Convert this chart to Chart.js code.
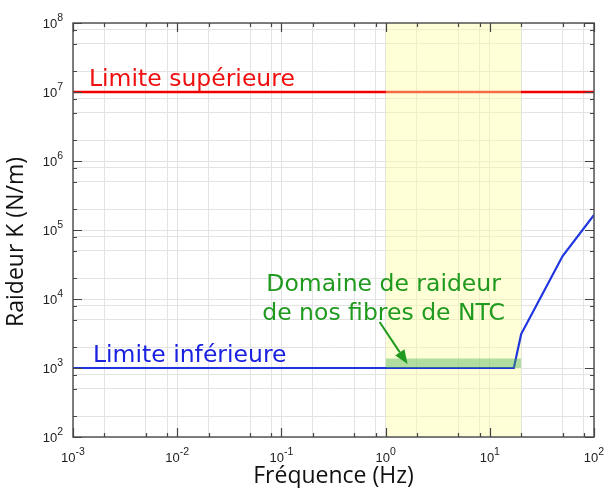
<!DOCTYPE html>
<html><head><meta charset="utf-8">
<script src="https://cdn.jsdelivr.net/npm/chart.js@4.4.1/dist/chart.umd.min.js"></script>
<style>html,body{margin:0;padding:0;background:#fff}#wrap{width:607px;height:488px}</style>
</head><body><div id="wrap"><canvas id="c" width="607" height="488"></canvas></div>
<script>
// ---- data ----
const lowerFreq = [0.001, 17, 20, 50, 100];
const lowerK = [1000, 1000, 3100, 42000, 165000];
const upperFreq = [0.001, 100];
const upperK = [1e7, 1e7];
const domainFreq = [1, 20];          // yellow frequency window
const ntcFreq = [1, 20];             // green stiffness band
const ntcK = [1000, 1370];
const xMajorExp = [-3, -2, -1, 0, 1, 2];
const yMajorExp = [2, 3, 4, 5, 6, 7, 8];
const minorMult = [2, 5, 8];
const upperLabel = 'Limite supérieure';
const lowerLabel = 'Limite inférieure';
const domainLabel = ['Domaine de raideur', 'de nos fibres de NTC'];
const xTitle = 'Fréquence (Hz)';
const yTitle = 'Raideur K (N/m)';

const xMin = Math.pow(10, xMajorExp[0]), xMax = Math.pow(10, xMajorExp[xMajorExp.length - 1]);
const yMin = Math.pow(10, yMajorExp[0]), yMax = Math.pow(10, yMajorExp[yMajorExp.length - 1]);

function buildTicks(exps) {
  const t = [];
  exps.forEach((e, i) => {
    const base = Math.pow(10, e);
    t.push({ value: base, major: true, exp: e });
    if (i < exps.length - 1) minorMult.forEach(m => t.push({ value: m * base, major: false }));
  });
  return t;
}
const pts = (xs, ys) => xs.map((x, i) => ({ x: x, y: ys[i] }));

const TICKFONT = '"Liberation Sans", Arial, Helvetica, sans-serif';
const ANNFONT = '"DejaVu Sans", Verdana, sans-serif';
const TITLEFONT = '"Open Sans", "Noto Sans", sans-serif';

const decor = {
  id: 'decor',
  afterDraw(chart) {
    const ctx = chart.ctx, a = chart.chartArea;
    const xs = chart.scales.x, ys = chart.scales.y;
    ctx.save();
    // annotations
    ctx.textBaseline = 'alphabetic';
    ctx.font = '23.5px ' + ANNFONT;
    ctx.fillStyle = '#f01010';
    ctx.textAlign = 'left';
    ctx.fillText(upperLabel, a.left + 16, ys.getPixelForValue(upperK[0]) - 6);
    ctx.fillStyle = '#1a22e0';
    ctx.fillText(lowerLabel, a.left + 20, ys.getPixelForValue(lowerK[0]) - 6);
    const gx = xs.getPixelForValue(ntcFreq[0]), gy = ys.getPixelForValue(ntcK[0]);
    ctx.fillStyle = '#1f9a1f';
    ctx.textAlign = 'center';
    ctx.fillText(domainLabel[0], gx - 2, gy - 77);
    ctx.fillText(domainLabel[1], gx - 2, gy - 48);
    // arrow
    const x0 = gx - 6, y0 = gy - 46, x1 = gx + 22, y1 = gy - 4;
    const ang = Math.atan2(y1 - y0, x1 - x0), hl = 14, hw = 5.5;
    const bx = x1 - hl * Math.cos(ang), by = y1 - hl * Math.sin(ang);
    ctx.strokeStyle = '#1f9a1f'; ctx.lineWidth = 2;
    ctx.beginPath(); ctx.moveTo(x0, y0); ctx.lineTo(bx, by); ctx.stroke();
    ctx.beginPath();
    ctx.moveTo(x1, y1);
    ctx.lineTo(bx + hw * Math.sin(ang), by - hw * Math.cos(ang));
    ctx.lineTo(bx - hw * Math.sin(ang), by + hw * Math.cos(ang));
    ctx.closePath(); ctx.fill();

    // frame
    ctx.strokeStyle = '#555'; ctx.lineWidth = 1.5;
    ctx.strokeRect(a.left, a.top, a.right - a.left, a.bottom - a.top);
    // inward ticks
    ctx.lineWidth = 1.2; ctx.strokeStyle = '#444';
    ctx.beginPath();
    xs.ticks.forEach(t => {
      const p = Math.round(xs.getPixelForValue(t.value)) + 0.5, L = t.major ? 9 : 4;
      ctx.moveTo(p, a.bottom); ctx.lineTo(p, a.bottom - L);
      ctx.moveTo(p, a.top); ctx.lineTo(p, a.top + L);
    });
    ys.ticks.forEach(t => {
      const p = Math.round(ys.getPixelForValue(t.value)) + 0.5, L = t.major ? 9 : 4;
      ctx.moveTo(a.left, p); ctx.lineTo(a.left + L, p);
      ctx.moveTo(a.right, p); ctx.lineTo(a.right - L, p);
    });
    ctx.stroke();

    // tick labels (10 with superscript exponent)
    ctx.fillStyle = '#222';
    ctx.textAlign = 'left';
    const bf = '13px ' + TICKFONT, ef = '10.5px ' + TICKFONT;
    xs.ticks.filter(t => t.major).forEach(t => {
      const p = xs.getPixelForValue(t.value);
      const es = String(t.exp).replace('-', '-');
      ctx.font = bf; const bw = ctx.measureText('10').width;
      ctx.font = ef; const ew = ctx.measureText(es).width;
      const sx = p - (bw + ew) / 2;
      ctx.font = bf; ctx.fillText('10', sx, a.bottom + 25);
      ctx.font = ef; ctx.fillText(es, sx + bw, a.bottom + 18);
    });
    ys.ticks.filter(t => t.major).forEach(t => {
      const p = ys.getPixelForValue(t.value);
      const es = String(t.exp);
      ctx.font = bf; const bw = ctx.measureText('10').width;
      ctx.font = ef; const ew = ctx.measureText(es).width;
      const sx = a.left - 10 - bw - ew;
      ctx.font = bf; ctx.fillText('10', sx, p + 4.7);
      ctx.font = ef; ctx.fillText(es, sx + bw, p - 1.8);
    });

    // axis titles
    ctx.fillStyle = '#111';
    ctx.font = '23px ' + TITLEFONT;
    ctx.textAlign = 'center';
    ctx.fillText(xTitle, (a.left + a.right) / 2, a.bottom + 46);
    ctx.save();
    ctx.translate(a.left - 50, (a.top + a.bottom) / 2 + 12);
    ctx.rotate(-Math.PI / 2);
    ctx.fillText(yTitle, 0, 0);
    ctx.restore();
    ctx.restore();
  }
};

new Chart(document.getElementById('c'), {
  type: 'line',
  data: {
    datasets: [
      { label: upperLabel, data: pts(upperFreq, upperK), borderColor: '#f00000', borderWidth: 2.5,
        pointRadius: 0, fill: false, order: 4 },
      { label: 'domaine', data: pts(domainFreq, [yMax, yMax]), borderColor: 'rgba(0,0,0,0)', borderWidth: 0,
        backgroundColor: 'rgba(255,255,160,0.42)', pointRadius: 0, fill: 'start', order: 3 },
      { label: lowerLabel, data: pts(lowerFreq, lowerK), borderColor: '#1f35e0', borderWidth: 2.2,
        pointRadius: 0, fill: false, order: 2 },
      { label: 'NTC', data: pts(ntcFreq, [ntcK[1], ntcK[1]]), borderColor: 'rgba(0,0,0,0)', borderWidth: 0,
        backgroundColor: 'rgba(70,175,80,0.42)', pointRadius: 0, fill: { value: ntcK[0] }, order: 1 }
    ]
  },
  options: {
    responsive: false,
    animation: false,
    events: [],
    layout: { padding: { left: 0, right: 13, top: 23, bottom: 0 } },
    plugins: { legend: { display: false }, tooltip: { enabled: false } },
    scales: {
      x: {
        type: 'logarithmic', min: xMin, max: xMax,
        afterBuildTicks: s => { s.ticks = buildTicks(xMajorExp); },
        afterFit: s => { s.height = 51; },
        ticks: { display: false },
        grid: { color: '#e3e3e3', lineWidth: 1, drawTicks: false },
        border: { display: false }
      },
      y: {
        type: 'logarithmic', min: yMin, max: yMax,
        afterBuildTicks: s => { s.ticks = buildTicks(yMajorExp); },
        afterFit: s => { s.width = 73; },
        ticks: { display: false },
        grid: { color: '#e3e3e3', lineWidth: 1, drawTicks: false },
        border: { display: false }
      }
    }
  },
  plugins: [decor]
});
</script>
</body></html>
